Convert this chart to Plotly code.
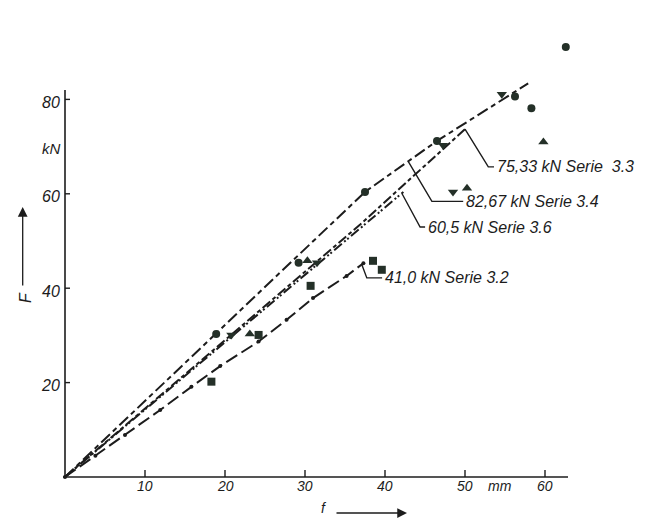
import numpy as np
import plotly.graph_objects as go

# ---------------- data (f in mm, F in kN) ----------------
# test lines
f_34 = [0, 37.5, 46.5, 57.9]
F_34 = [0, 60.4, 71.2, 83.4]
f_33 = [0, 36.9, 50.0]
F_33 = [0, 53.5, 73.7]
f_36 = [0, 42.3]
F_36 = [0, 60.4]
f_32 = [0, 3.8, 7.5, 11.9, 15.8, 19.4, 24.2, 27.7, 31.0, 35.2, 37.3]
F_32 = [0, 4.5, 8.9, 14.2, 19.1, 23.5, 28.7, 33.3, 37.9, 42.6, 45.3]

# measured points
circle_f = [18.9, 29.2, 37.5, 46.5, 56.25, 58.3, 62.6]
circle_F = [30.3, 45.4, 60.4, 71.2, 80.6, 78.1, 91.1]
tri_up_f = [23.1, 30.3, 50.25, 59.8]
tri_up_F = [30.3, 45.8, 61.2, 71.0]
tri_dn_f = [20.8, 31.5, 47.25, 48.5, 54.6]
tri_dn_F = [30.1, 45.4, 70.3, 60.4, 81.1]
sq_f = [18.3, 24.2, 30.7, 38.5, 39.6]
sq_F = [20.2, 30.1, 40.5, 45.8, 43.9]

x_ticks = [10, 20, 30, 40, 50, 60]
y_ticks = [20, 40, 60, 80]
x_tick_labels = ["10", "20", "30", "40", "50", "60"]
y_tick_labels = ["20", "40", "60", "80"]
series_labels = ["82,67 kN Serie 3.4", "75,33 kN Serie  3.3",
                 "60,5 kN Serie 3.6", "41,0 kN Serie 3.2"]

# ---------------- layout geometry ----------------
# The page body has an 8px margin, so the figure starts at screen pixel 8.
WIN_W, WIN_H = 659, 519
OFF = 8
W, H = WIN_W - OFF, WIN_H - OFF
X0_PX, Y0_PX = 65.0, 477.0     # screen pixel of the origin
SX, SY = 8.0, 4.72             # px per mm, px per kN


def dx(px):
    return px / SX


def dy(px):
    return px / SY


def X(px):   # screen x pixel -> data
    return (px - X0_PX) / SX


def Y(py):   # screen y pixel -> data
    return (Y0_PX - py) / SY


xr = [X(OFF), X(WIN_W)]
yr = [Y(WIN_H), Y(OFF)]

INK = "#1c1c1c"
MK = "#243028"
FONT = "Liberation Sans"

fig = go.Figure()

line_styles = [
    (f_34, F_34, "12px,4px,5px,4px"),
    (f_33, F_33, "10px,3px,4px,3px"),
    (f_36, F_36, "10px,3px,2px,2px,2px,3px"),
]
for fx, Fy, dash in line_styles:
    fig.add_trace(go.Scatter(x=fx, y=Fy, mode="lines",
                             line=dict(color=INK, width=2, dash=dash),
                             hoverinfo="skip", showlegend=False))
fig.add_trace(go.Scatter(x=f_32, y=F_32, mode="lines+markers",
                         line=dict(color=INK, width=2, dash="13px,5px"),
                         marker=dict(color=INK, size=4),
                         hoverinfo="skip", showlegend=False))

for fx, Fy, sym, size in [(circle_f, circle_F, "circle", 8),
                          (tri_up_f, tri_up_F, "triangle-up", 9),
                          (tri_dn_f, tri_dn_F, "triangle-down", 9),
                          (sq_f, sq_F, "square", 8)]:
    fig.add_trace(go.Scatter(x=fx, y=Fy, mode="markers",
                             marker=dict(symbol=sym, size=size, color=MK,
                                         line=dict(width=0)),
                             hoverinfo="skip", showlegend=False))

shapes = []
# axes
shapes.append(dict(type="line", x0=X(63), y0=0, x1=X(568), y1=0,
                   line=dict(color=INK, width=1.6)))
shapes.append(dict(type="line", x0=0, y0=0, x1=0, y1=Y(90),
                   line=dict(color=INK, width=1.6)))
for t in x_ticks:
    shapes.append(dict(type="line", x0=t, y0=0, x1=t, y1=dy(7),
                       line=dict(color=INK, width=1.4)))
for t in y_ticks:
    shapes.append(dict(type="line", x0=0, y0=t, x1=dx(5), y1=t,
                       line=dict(color=INK, width=1.4)))

annotations = []
for t, lab in zip(x_ticks, x_tick_labels):
    annotations.append(dict(x=t, y=-dy(9), text=lab, showarrow=False,
                            xanchor="center", yanchor="middle",
                            font=dict(family=FONT, size=14, color=INK, style="italic")))
for t, lab in zip(y_ticks, y_tick_labels):
    annotations.append(dict(x=-dx(3), y=t - dy(3), text=lab, showarrow=False,
                            xanchor="right", yanchor="middle",
                            font=dict(family=FONT, size=16, color=INK, style="italic")))
annotations.append(dict(x=-dx(2), y=Y(148.5), text="kN", showarrow=False,
                        xanchor="right", yanchor="middle",
                        font=dict(family=FONT, size=15, color=INK, style="italic")))
annotations.append(dict(x=X(499.5), y=-dy(9), text="mm", showarrow=False,
                        xanchor="center", yanchor="middle",
                        font=dict(family=FONT, size=14, color=INK, style="italic")))

# axis titles with arrows
annotations.append(dict(x=X(25), y=Y(298), text="F",
                        showarrow=False, textangle=-90,
                        font=dict(family=FONT, size=16, color=INK, style="italic")))
annotations.append(dict(x=X(22.7), y=Y(207), ax=X(22.7), ay=Y(287),
                        axref="x", ayref="y", text="", showarrow=True,
                        arrowhead=2, arrowsize=1.5, arrowwidth=1.3, arrowcolor=INK))
annotations.append(dict(x=X(324), y=Y(508), text="f",
                        showarrow=False,
                        font=dict(family=FONT, size=14, color=INK, style="italic")))
annotations.append(dict(x=X(407), y=Y(513), ax=X(335), ay=Y(513),
                        axref="x", ayref="y", text="", showarrow=True,
                        arrowhead=2, arrowsize=1.5, arrowwidth=1.3, arrowcolor=INK))

# leader lines with series labels:
# (series f, series F, f at start, bend offset px, horizontal px)
leaders = [
    (f_34, F_34, 42.9, (23.7, 40.0), 31.3),
    (f_33, F_33, 50.0, (23.3, 37.7), 5.7),
    (f_36, F_36, 42.1, (18.3, 33.8), 5.0),
    (f_32, F_32, 37.1, (5.0, 13.5), 15.3),
]
for (fx, Fy, fs, (bx, by), hz), lab in zip(leaders, series_labels):
    ys = float(np.interp(fs, fx, Fy))
    xb, yb = fs + dx(bx), ys - dy(by)
    xe = xb + dx(hz)
    shapes.append(dict(type="path",
                       path=f"M {fs},{ys} L {xb},{yb} L {xe},{yb}",
                       line=dict(color=INK, width=1.4)))
    annotations.append(dict(x=xe + dx(1), y=yb, text=lab, showarrow=False,
                            xanchor="left", yanchor="middle",
                            font=dict(family=FONT, size=16, color=INK, style="italic")))

fig.update_layout(
    width=W, height=H,
    margin=dict(l=0, r=0, t=0, b=0),
    paper_bgcolor="white", plot_bgcolor="white",
    xaxis=dict(range=xr, visible=False, fixedrange=True),
    yaxis=dict(range=yr, visible=False, fixedrange=True),
    shapes=shapes, annotations=annotations,
    showlegend=False,
)

fig.write_html("out.html")
